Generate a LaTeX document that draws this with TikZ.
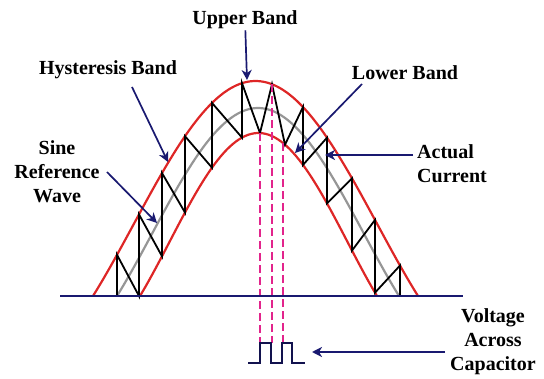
\documentclass[tikz,border=0pt]{standalone}
\usepackage{fontspec}
\setmainfont{Liberation Serif}
\usetikzlibrary{arrows.meta, positioning}
\definecolor{bandred}{RGB}{222,38,38}
\definecolor{refgray}{RGB}{150,150,150}
\definecolor{arrnavy}{RGB}{25,25,112}
\definecolor{dashpink}{RGB}{226,36,140}

\begin{document}
\begin{tikzpicture}[
    x=1pt, y=-1pt,
    declare function={
      up(\x)=296-215*(2*cos((\x-255.5)/162.5*120)+1)/3;
      mid(\x)=296-188*(2*cos((\x-258)/141*120)+1)/3;
      lo(\x)=296-163*(2*cos((\x-258.5)/118.5*120)+1)/3;
    },
    lbl/.style={font=\bfseries\fontsize{20}{24}\selectfont, align=center, inner sep=1pt},
    arr/.style={-{Stealth[length=10pt, width=10pt, inset=3pt]}, line width=1.7pt, arrnavy},
    band/.style={bandred, line width=2.2pt},
    refwave/.style={refgray, line width=2.2pt},
    zig/.style={black, line width=1.8pt, line join=miter},
    dashline/.style={dashpink, line width=2.2pt, dash pattern=on 8pt off 4pt},
]
\useasboundingbox (0,0) rectangle (544,379);

% reference wave and hysteresis band
\draw[refwave] plot[domain=117:399, samples=80] (\x,{mid(\x)});
\draw[band] plot[domain=93:418, samples=90] (\x,{up(\x)});
\draw[band] plot[domain=140:377, samples=80] (\x,{lo(\x)});

% actual current
\draw[zig] (117,296) -- (117,{up(117)}) -- (139,296) -- (139,{up(139)})
  -- (162,{lo(162)}) -- (162,{up(162)}) -- (185,{lo(185)}) -- (185,{up(185)})
  -- (212,{lo(212)}) -- (212,{up(212)}) -- (242,{lo(242)}) -- (242,{up(242)})
  -- (260,{lo(260)}) -- (272,{up(272)}) -- (285,{lo(285)}) -- (303,{up(303)})
  -- (303,{lo(303)}) -- (327,{up(327)}) -- (327,{lo(327)}) -- (352,{up(352)})
  -- (352,{lo(352)}) -- (375,{up(375)}) -- (375,{lo(375)}) -- (400,{up(400)})
  -- (400,296);

% switching instants
\draw[dashline] (260,{lo(260)}) -- (260,343);
\draw[dashline] (272,{up(272)}) -- (272,343);
\draw[dashline] (283,{lo(283)}) -- (283,343);

% axis
\draw[arrnavy, line width=2pt] (60,296) -- (463,296);

% capacitor voltage
\draw[arrnavy!70!black, line width=1.4pt] (248,363) -- (260,363) -- (260,343) -- (271,343)
  -- (271,363) -- (282,363) -- (282,343) -- (292,343) -- (292,363) -- (305,363);

% labels
\node[lbl] (upper) at (245,20) {Upper Band};
\node[lbl] (hyst) at (108,70) {Hysteresis Band};
\node[lbl] (lower) at (405,73) {Lower Band};
\node[lbl, align=left, anchor=west] (actual) at (416,164) {Actual\\Current};
\node[lbl] (sine) at (57,172) {Sine\\Reference\\Wave};
\node[lbl] (volt) at (493,342) {Voltage\\Across\\Capacitor};

\coordinate (upperpt) at (247,80);
\coordinate (hysttail) at (132,87);
\coordinate (hystpt) at (168,162);
\coordinate (lowertail) at (362,84);
\coordinate (lowerpt) at (295,153);
\coordinate (actualtail) at (413,155);
\coordinate (actualpt) at (325,155);
\coordinate (sinetail) at (107,172);
\coordinate (sinept) at (157,223);
\coordinate (volttail) at (445,352);
\coordinate (voltpt) at (312,352);

\draw[arr] (upper) -- (upperpt);
\draw[arr] (hysttail) -- (hystpt);
\draw[arr] (lowertail) -- (lowerpt);
\draw[arr] (actualtail) -- (actualpt);
\draw[arr] (sinetail) -- (sinept);
\draw[arr] (volttail) -- (voltpt);
\end{tikzpicture}
\end{document}
